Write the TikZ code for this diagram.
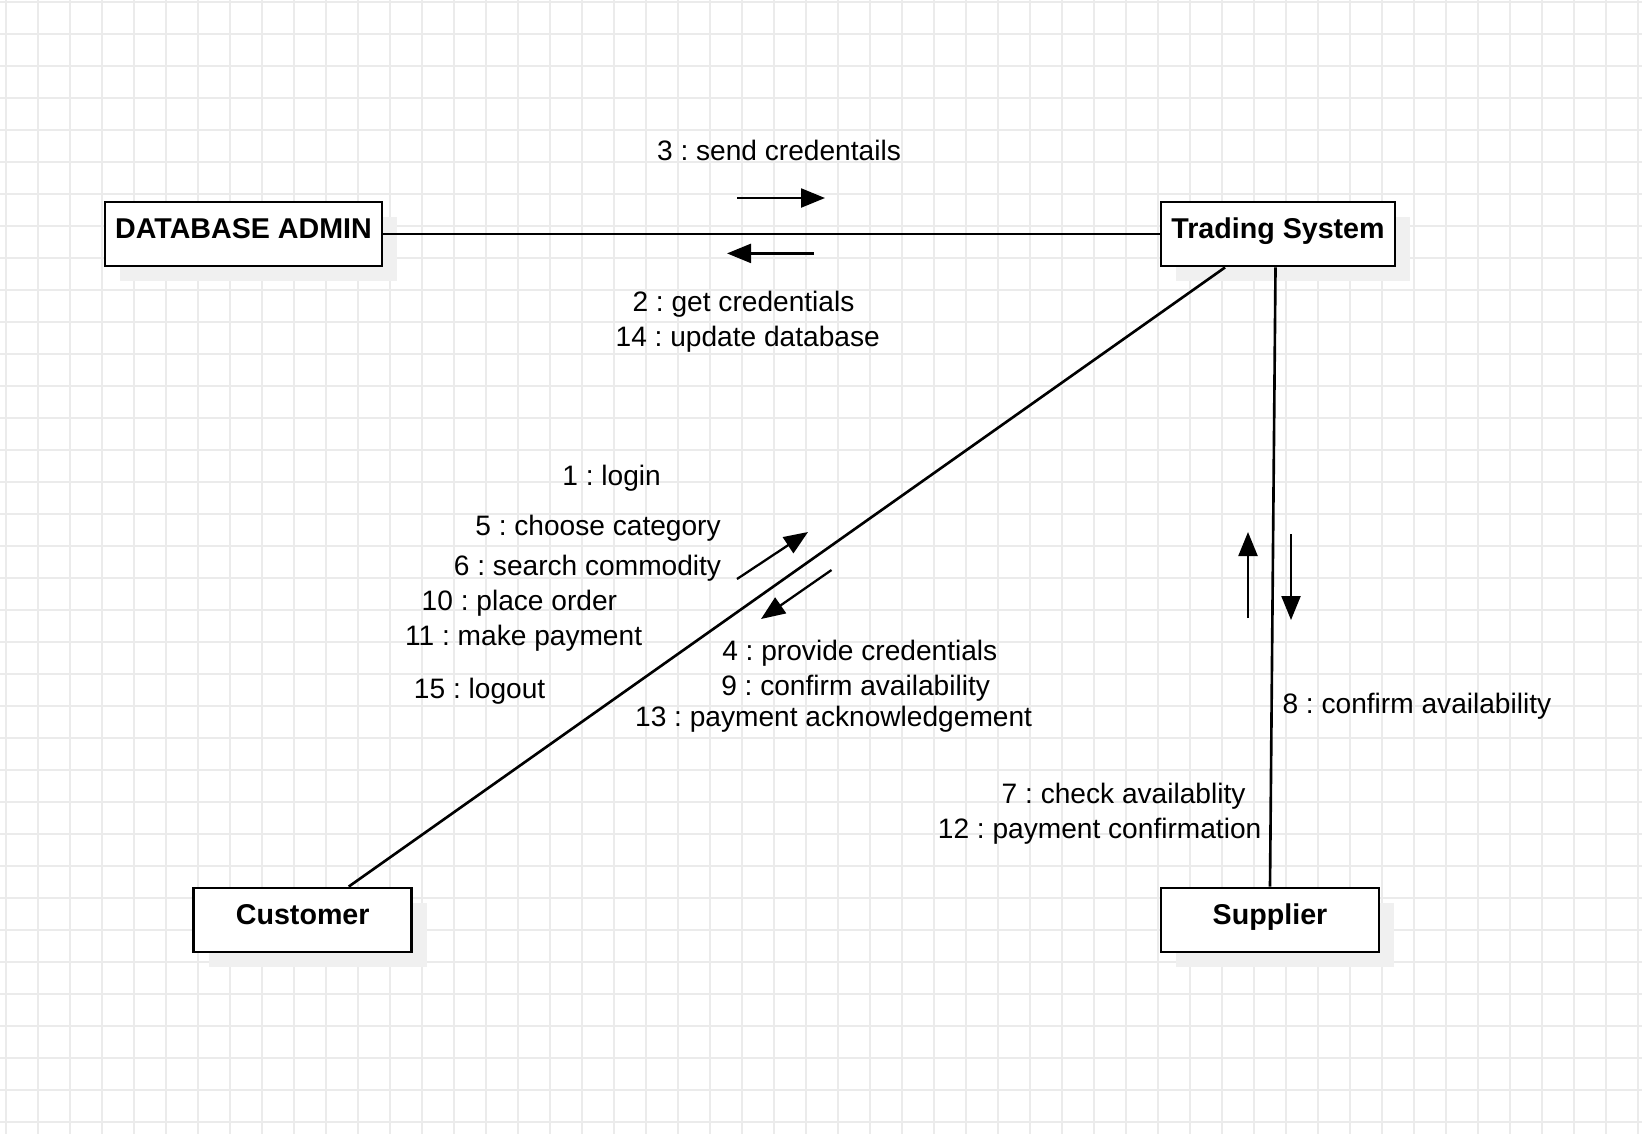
\documentclass[tikz,border=0pt]{standalone}
\usepackage{fontspec}
\setmainfont{Liberation Sans}
\usetikzlibrary{arrows.meta}
\usetikzlibrary{calc,shadows}
\frenchspacing
\definecolor{gridgray}{RGB}{235,235,235}
\definecolor{shadowgray}{RGB}{240,240,240}
\tikzset{
    objbox/.style={
        draw,
        rectangle,
        fill=white,
        line width=1.6pt,
        font=\fontsize{16.3}{19}\selectfont\bfseries,
        text height=11pt,
        text depth=6pt,
        minimum height=1.28cm,
        general shadow={fill=shadowgray, shadow xshift=0.3cm, shadow yshift=-0.3cm}
    },
    link/.style={
        draw,
        line width=1.5pt
    },
    msgarrow/.style={
        draw,
        line width=1.3pt,
        -{Triangle[length=0.48cm, width=0.38cm]}
    },
    msg/.style={
        font=\fontsize{16}{19}\selectfont,
        inner sep=0pt,
        text height=11.5pt,
        text depth=0pt
    },
    gridline/.style={
        draw=gridgray,
        line width=0.6pt
    }
}

\begin{document}
\begin{tikzpicture}[x=0.02cm, y=-0.02cm]
    \useasboundingbox (0,0) rectangle (1642,1134);
    % Background grid
    \foreach \gx in {6,38,...,1638}
        \draw[gridline] (\gx,0) -- (\gx,1134);
    \foreach \gy in {2,34,...,1122}
        \draw[gridline] (0,\gy) -- (1642,\gy);

    % Objects
    \node[objbox, minimum width=5.54cm] (dbadmin) at (243.5,234) {DATABASE ADMIN};
    \node[objbox, minimum width=4.68cm] (trading) at (1278,234) {Trading System};
    \node[objbox, minimum width=4.36cm] (customer) at (302.7,920) {Customer};
    \node[objbox, minimum width=4.36cm] (supplier) at (1270,920) {Supplier};

    % Links
    \draw[link] (dbadmin.east) -- (trading.west);
    \draw[link] ([xshift=-1.06cm]trading.south) -- ([xshift=0.92cm]customer.north);
    \draw[link] ([xshift=-0.05cm]trading.south) -- (supplier.north);

    % Message arrows
    \coordinate (sendA) at (737,198);   \coordinate (sendB) at (825,198);
    \coordinate (getA) at (814,253.4);  \coordinate (getB) at (727,253.4);
    \coordinate (loginA) at (737,579);  \coordinate (loginB) at (808,532);
    \coordinate (provA) at (831.5,570); \coordinate (provB) at (761,619);
    \coordinate (checkA) at (1248,618); \coordinate (checkB) at (1248,532);
    \coordinate (confA) at (1291,534);  \coordinate (confB) at (1291,620);
    \draw[msgarrow] (sendA) -- (sendB);
    \draw[msgarrow] (getA) -- (getB);
    \draw[msgarrow] (loginA) -- (loginB);
    \draw[msgarrow] (provA) -- (provB);
    \draw[msgarrow] (checkA) -- (checkB);
    \draw[msgarrow] (confA) -- (confB);

    % Message labels
    \node[msg] (m3) at (779,150) {3 : send credentails};
    \node[msg] (m2) at (743.5,301.6) {2 : get credentials};
    \node[msg] (m14) at (747.7,336) {14 : update database};
    \node[msg] (m1) at (611.6,475.4) {1 : login};
    \node[msg] (m5) at (598,525.7) {5 : choose category};
    \node[msg] (m6) at (587.5,565.5) {6 : search commodity};
    \node[msg] (m10) at (519.4,600) {10 : place order};
    \node[msg] (m11) at (523.6,635.6) {11 : make payment};
    \node[msg] (m15) at (479.6,688) {15 : logout};
    \node[msg] (m4) at (859.8,650.3) {4 : provide credentials};
    \node[msg] (m9) at (855.6,684.9) {9 : confirm availability};
    \node[msg] (m13) at (833.6,716.3) {13 : payment acknowledgement};
    \node[msg] (m8) at (1416.9,703.7) {8 : confirm availability};
    \node[msg] (m7) at (1123.6,793.8) {7 : check availablity};
    \node[msg] (m12) at (1099.6,828.3) {12 : payment confirmation};
\end{tikzpicture}
\end{document}
